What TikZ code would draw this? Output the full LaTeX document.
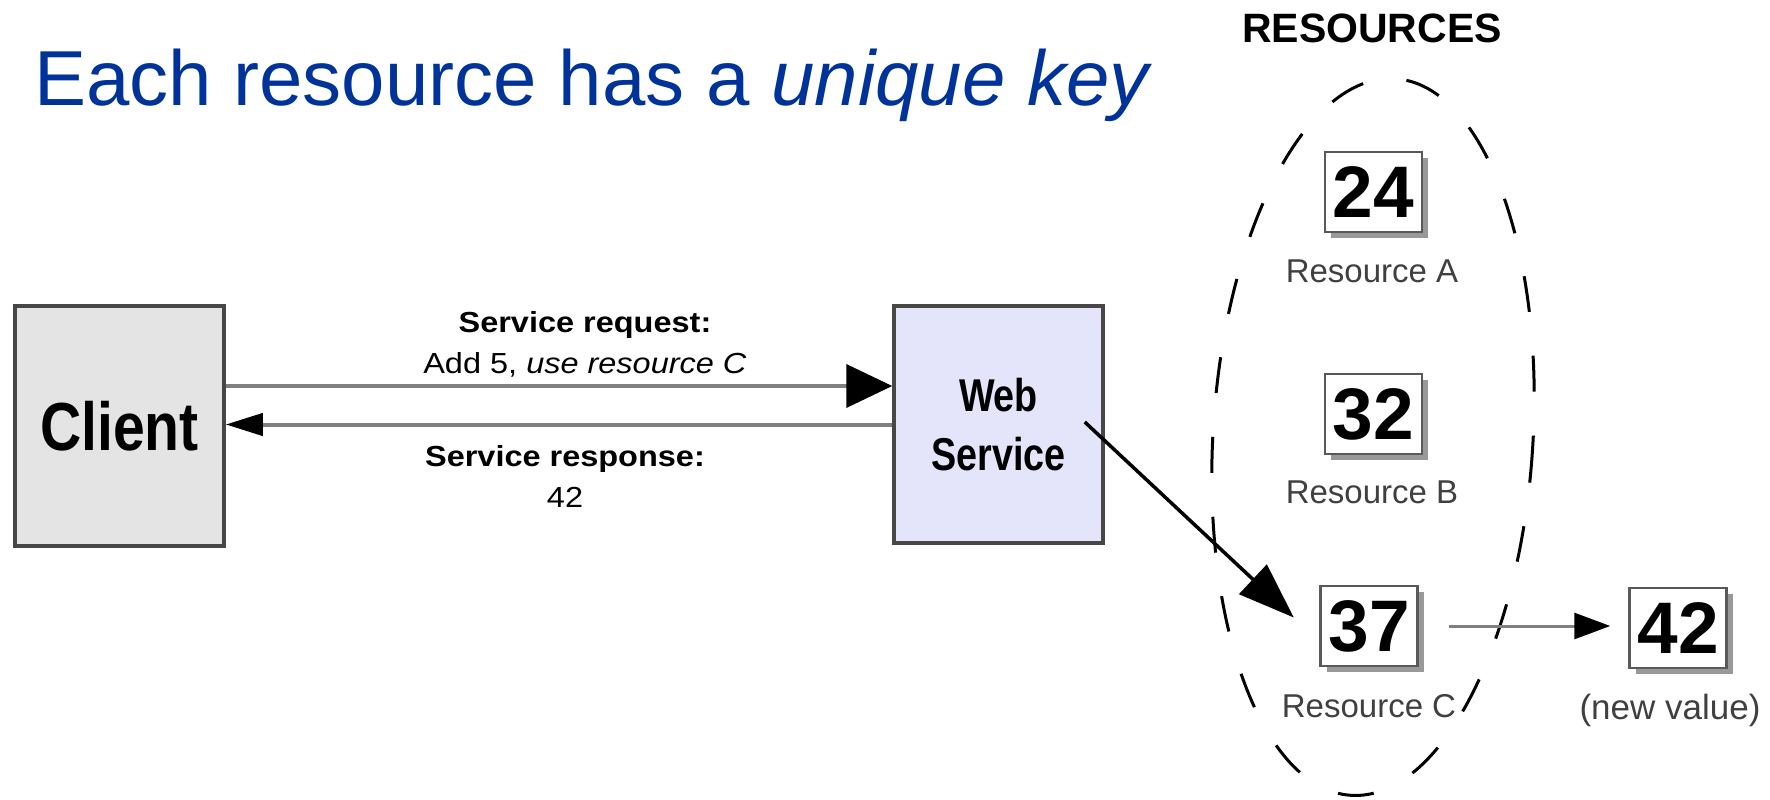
\documentclass[tikz,border=0pt]{standalone}
\usepackage{fontspec}
\setmainfont{Liberation Sans}
\usepackage{graphicx}
\usetikzlibrary{arrows.meta}
\usetikzlibrary{shadows}
\definecolor{titleblue}{RGB}{0,51,153}
\definecolor{clientgray}{RGB}{228,228,228}
\definecolor{servicelilac}{RGB}{228,228,250}
\newcommand{\fsz}[2]{\fontsize{#1}{#2}\selectfont}
\newcommand{\narrow}[2]{\scalebox{#1}[1]{#2}}

\begin{document}
\begin{tikzpicture}[x=1pt,y=-1pt,
	box/.style={draw=black!72,line width=3.5pt,inner sep=0pt,minimum width=209pt},
	numbox/.style={draw=black!65,line width=2.5pt,fill=white,inner sep=0pt,
		minimum width=97pt,minimum height=80pt,font=\fsz{73}{73}\bfseries,
		drop shadow={shadow xshift=6pt,shadow yshift=-6pt,fill=black!40,opacity=1}},
	reslabel/.style={anchor=base,inner sep=0pt,text=black!75,font=\fsz{33}{33}},
	msg/.style={align=center,inner sep=0pt,font=\fsz{29}{41}},
	pipe/.style={draw=black!50,line width=4pt}]
	\useasboundingbox[fill=white] (0,0) rectangle (1770,800);
	\node[anchor=base west,inner sep=0pt,text=titleblue,font=\fsz{78}{78}] (title) at (34,106) {Each resource has a \textit{unique key}};
	% the two ends of the call
	\node[box,fill=clientgray,minimum height=240pt,font=\fsz{68}{68}\bfseries] (client) at (119.5,426) {\narrow{0.84}{Client}};
	\node[box,fill=servicelilac,minimum height=237pt,align=center,font=\fsz{46}{59}\bfseries] (ws) at (998.5,424.5) {\narrow{0.82}{Web}\\\narrow{0.82}{Service}};
	\draw[pipe,-{Triangle[length=46pt,width=43pt,color=black]}] ([yshift=40pt]client.east) -- ([yshift=40pt]client.east -| ws.west);
	\draw[pipe,-{Triangle[length=37pt,width=22pt,color=black]}] (ws.west) -- (ws.west -| client.east);
	\node[msg] (request) at (585,344) {{\bfseries\narrow{1.12}{Service request:}}\\\narrow{1.12}{Add 5, \textit{use resource C}}};
	\node[msg] (response) at (565,476) {{\bfseries\narrow{1.12}{Service response:}}\\\narrow{1.12}{42}};
	% resource pool
	\node[font=\fsz{41}{41}\bfseries,inner sep=0pt] (resources) at (1372,28) {RESOURCES};
	\draw[line width=3pt,dash pattern=on 36pt off 44pt,rotate around={-3.5:(1373,437)}] (1373,437) ellipse [x radius=160,y radius=359];
	\node[numbox] (r24) at (1373.5,192) {24};
	\node[reslabel] (labA) at (1372,282) {Resource A};
	\node[numbox] (r32) at (1373.5,414) {32};
	\node[reslabel] (labB) at (1372,503) {Resource B};
	\node[numbox] (r37) at (1369,626) {37};
	\node[reslabel] (labC) at (1369,717) {Resource C};
	\node[numbox] (r42) at (1678,628) {42};
	\node[reslabel,font=\fsz{35}{35}] (newval) at (1670,719) {(new value)};
	\draw[line width=3.5pt,-{Triangle[length=56pt,width=40pt]}] ([xshift=-20pt,yshift=2.5pt]ws.east) -- ([shift={(-25.5pt,8.5pt)}]r37.west);
	\draw[draw=black!50,line width=3pt,shorten >=18pt,-{Triangle[length=36pt,width=26pt,color=black]}] ([xshift=30pt]r37.east) -- (r37.east -| r42.west);
\end{tikzpicture}
\end{document}
